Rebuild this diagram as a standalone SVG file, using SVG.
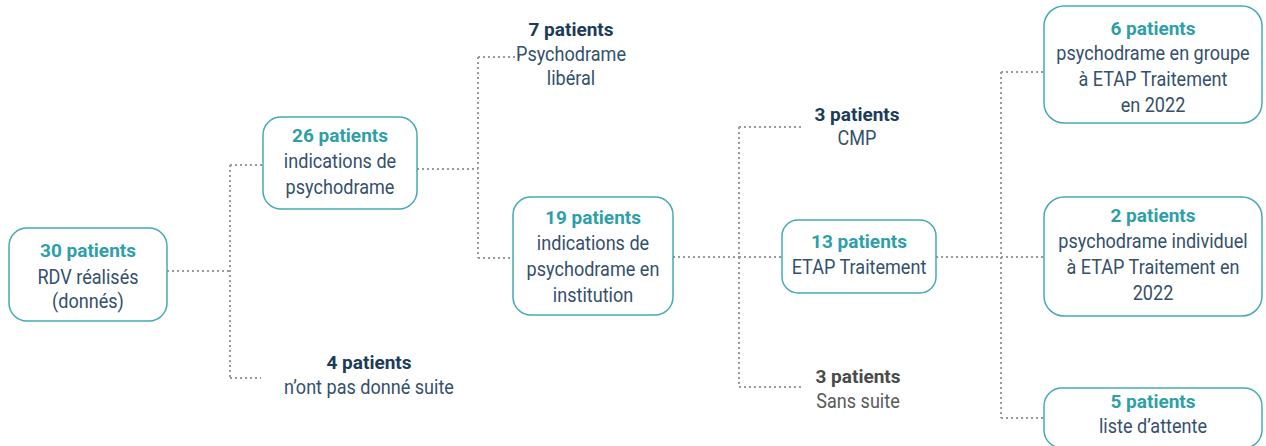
<svg xmlns="http://www.w3.org/2000/svg" width="1266" height="446" viewBox="0 0 1266 446">
<style>
text{font-family:Roboto,"Liberation Sans",sans-serif;font-size:18px;text-anchor:middle}
.b{font-weight:bold;font-size:19px}
.t{fill:#2e9fa9}
.n{fill:#1c3b5a}
.r,.gr{font-size:21px;font-weight:400;transform-box:fill-box;transform-origin:center;transform:scaleX(0.86)}
.r{fill:#34506c}
.g{fill:#4a4a4a}
.gr{fill:#5a5a5a}
.box{fill:#fff;stroke:#45aab4;stroke-width:1.5}
.c{fill:none;stroke:#9a9a9a;stroke-width:2;stroke-dasharray:2 3}
</style>
<rect width="1266" height="446" fill="#fff"/>
<g id="connectors">
<path class="c" d="M167 271H230M230 165V378M230 165H263M230 378H261"/>
<path class="c" d="M417 169H478M478 57V258M478 57H521M478 258H513"/>
<path class="c" d="M673 257H739M739 127V387M739 127H803M739 257H782M739 387H803"/>
<path class="c" d="M936 257H1001M1001 72V418M1001 72H1043M1001 257H1044M1001 418H1043"/>
</g>
<g id="n30">
<rect class="box" x="9" y="228" width="158" height="93" rx="18"/>
<text x="88" y="257" class="b t">30 patients</text>
<text x="88" y="284" class="r">RDV réalisés</text>
<text x="88" y="308" class="r">(donnés)</text>
</g>
<g id="n26">
<rect class="box" x="263" y="117" width="154" height="92" rx="18"/>
<text x="340" y="142" class="b t">26 patients</text>
<text x="340" y="168" class="r">indications de</text>
<text x="340" y="194" class="r">psychodrame</text>
</g>
<g id="n4">
<text x="369" y="369" class="b n">4 patients</text>
<text x="369" y="394" class="r">n’ont pas donné suite</text>
</g>
<g id="n7">
<text x="571" y="36" class="b n">7 patients</text>
<text x="571" y="61" class="r">Psychodrame</text>
<text x="571" y="85" class="r">libéral</text>
</g>
<g id="n19">
<rect class="box" x="513" y="197" width="160" height="118" rx="18"/>
<text x="593" y="224" class="b t">19 patients</text>
<text x="593" y="250" class="r">indications de</text>
<text x="593" y="276" class="r">psychodrame en</text>
<text x="593" y="302" class="r">institution</text>
</g>
<g id="n3cmp">
<text x="857" y="121" class="b n">3 patients</text>
<text x="857" y="145" class="r">CMP</text>
</g>
<g id="n13">
<rect class="box" x="782" y="220" width="154" height="73" rx="16"/>
<text x="859" y="248" class="b t">13 patients</text>
<text x="859" y="274" class="r">ETAP Traitement</text>
</g>
<g id="n3ss">
<text x="858" y="383" class="b g">3 patients</text>
<text x="858" y="408" class="gr">Sans suite</text>
</g>
<g id="n6">
<rect class="box" x="1044" y="6" width="218" height="117" rx="20"/>
<text x="1153" y="35" class="b t">6 patients</text>
<text x="1153" y="60" class="r">psychodrame en groupe</text>
<text x="1153" y="86" class="r">à ETAP Traitement</text>
<text x="1153" y="112" class="r">en 2022</text>
</g>
<g id="n2">
<rect class="box" x="1044" y="197" width="218" height="119" rx="20"/>
<text x="1153" y="222" class="b t">2 patients</text>
<text x="1153" y="248" class="r">psychodrame individuel</text>
<text x="1153" y="274" class="r">à ETAP Traitement en</text>
<text x="1153" y="300" class="r">2022</text>
</g>
<g id="n5">
<rect class="box" x="1044" y="388" width="218" height="60" rx="18"/>
<text x="1153" y="408" class="b t">5 patients</text>
<text x="1153" y="433" class="r">liste d’attente</text>
</g>
</svg>
